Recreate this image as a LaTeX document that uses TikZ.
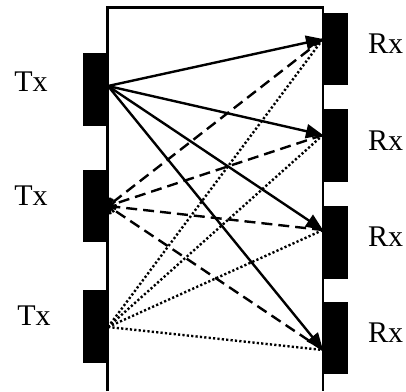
\documentclass[tikz,border=0pt]{standalone}
\usepackage{fontspec}
\setmainfont{Liberation Serif}
\usetikzlibrary{arrows.meta}
\begin{document}
\begin{tikzpicture}[x=1pt,y=-1pt,
  blk/.style={fill=black,draw=none,inner sep=0pt,minimum width=24.5pt},
  lbl/.style={font=\fontsize{30}{36}\selectfont,anchor=base,inner sep=0pt},
  solidarr/.style={line width=2.4pt,-{Triangle[length=17pt,width=14pt]}},
  dasharr/.style={line width=2.4pt,dash pattern=on 11pt off 6pt,-{Straight Barb[length=5pt,width=11pt]}},
  dotline/.style={line width=2.4pt,dash pattern=on 2.2pt off 2.2pt}]
\useasboundingbox (0,0) rectangle (406,391);
% frame
\draw[line width=2.4pt] (107.5,391) -- (107.5,7.5) -- (323,7.5) -- (323,391);
% blocks
\node[blk,minimum height=73pt] (t1) at (95.25,89.5) {};
\node[blk,minimum height=72pt] (t2) at (95.25,206) {};
\node[blk,minimum height=73pt] (t3) at (95.25,326.5) {};
\node[blk,minimum height=72pt] (r1) at (335.25,49) {};
\node[blk,minimum height=73pt] (r2) at (335.25,145.5) {};
\node[blk,minimum height=73pt] (r3) at (335.25,242.5) {};
\node[blk,minimum height=72pt] (r4) at (335.25,338) {};
% labels
\node[lbl] (lt1) at (31,91.7) {Tx};
\node[lbl] (lt2) at (31,205) {Tx};
\node[lbl] (lt3) at (34,325) {Tx};
\node[lbl] (lr1) at (385.5,53) {Rx};
\node[lbl] (lr2) at (385.5,150) {Rx};
\node[lbl] (lr3) at (385.5,246) {Rx};
\node[lbl] (lr4) at (385.5,342) {Rx};
% port points
\coordinate (s1) at (108,86);
\coordinate (s2) at (108,206);
\coordinate (s3) at (108,327);
\coordinate (d1) at (323,39);
\coordinate (d2) at (323,135);
\coordinate (d3) at (323,230);
\coordinate (d4) at (323,350);
% dotted lines from Tx3
\foreach \d in {d1,d2,d3,d4} \draw[dotline] (s3) -- (\d);
% dashed lines into Tx2
\foreach \d in {d1,d2,d3,d4} \draw[dasharr] (\d) -- (s2);
% solid arrows from Tx1
\foreach \d in {d1,d2,d3,d4} \draw[solidarr] (s1) -- (\d);
\end{tikzpicture}
\end{document}
